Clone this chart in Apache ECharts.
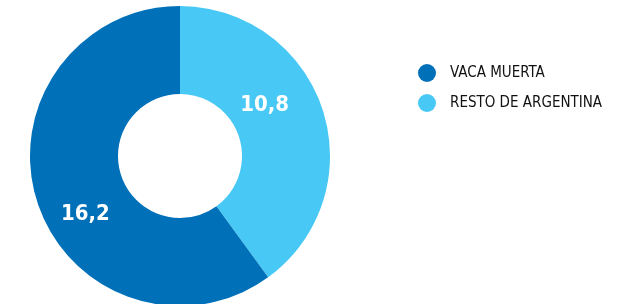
<!DOCTYPE html>
<html>
<head>
<meta charset="utf-8">
<script src="https://cdn.jsdelivr.net/npm/echarts@6/dist/echarts.min.js"></script>
<style>
  html, body { margin: 0; padding: 0; background: #fff; }
  #main { width: 637px; height: 304px; }
</style>
</head>
<body>
<div id="main"></div>
<script>
// datos del gráfico
var categories = ['RESTO DE ARGENTINA', 'VACA MUERTA'];
var values = [10.8, 16.2];
var colors = ['#48c8f5', '#0070b9'];
// desplazamiento de las etiquetas respecto a la posición 'inside'
var labelOffsets = [[-19, -17], [9, 25]];

var chart = echarts.init(document.getElementById('main'));

var seriesData = [];
for (var i = 0; i < categories.length; i++) {
  seriesData.push({
    name: categories[i],
    value: values[i],
    itemStyle: { color: colors[i] },
    label: { offset: labelOffsets[i] }
  });
}

var option = {
  animation: false,
  legend: {
    orient: 'vertical',
    left: 418,
    top: 64,
    padding: 0,
    itemWidth: 18,
    itemHeight: 18,
    itemGap: 12,
    icon: 'circle',
    data: ['VACA MUERTA', 'RESTO DE ARGENTINA'],
    textStyle: {
      fontFamily: 'DejaVu Sans Condensed',
      fontSize: 15,
      color: '#111',
      padding: [0, 0, 0, 9]
    }
  },
  series: [{
    type: 'pie',
    center: [180, 156],
    radius: [62, 150],
    startAngle: 90,
    clockwise: true,
    silent: true,
    label: {
      show: true,
      position: 'inside',
      color: '#fff',
      fontFamily: 'DejaVu Sans Condensed',
      fontWeight: 'bold',
      fontSize: 22,
      formatter: function (p) {
        return String(p.value).replace('.', ',');
      }
    },
    labelLine: { show: false },
    data: seriesData
  }]
};

chart.setOption(option);
</script>
</body>
</html>
